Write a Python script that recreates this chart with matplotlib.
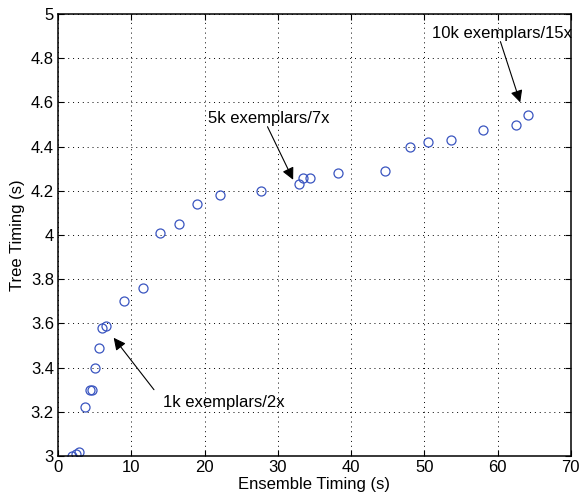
import matplotlib
matplotlib.use("Agg")
import matplotlib.pyplot as plt
from matplotlib import rcParams

# Data
ensemble_timing = [1.9, 2.4, 2.9, 3.7, 4.3, 4.6, 5.1, 5.65, 6.0, 6.55, 9.0, 11.6,
                   13.9, 16.5, 19.0, 22.1, 27.7, 32.9, 33.5, 34.4, 38.2, 44.6,
                   48.0, 50.5, 53.7, 58.0, 62.5, 64.1]
tree_timing = [3.0, 3.01, 3.02, 3.22, 3.30, 3.30, 3.40, 3.49, 3.58, 3.59, 3.70, 3.76,
               4.01, 4.05, 4.14, 4.18, 4.20, 4.23, 4.26, 4.26, 4.28, 4.29,
               4.40, 4.42, 4.43, 4.475, 4.50, 4.545]

# (label, text position, arrow start, arrow tip)
annotations = [
    ("1k exemplars/2x", (14.3, 3.24), (13.1, 3.30), (7.6, 3.535)),
    ("5k exemplars/7x", (20.5, 4.525), (28.6, 4.49), (32.1, 4.25)),
    ("10k exemplars/15x", (51.0, 4.91), (60.4, 4.875), (63.1, 4.60)),
]

if __name__ == "__main__":
    rcParams.update({"font.size": 12, "font.family": "Liberation Sans"})
    fig = plt.figure(figsize=(5.83, 5.0), dpi=100)
    ax = fig.add_axes([0.0995, 0.088, 0.8795, 0.884])

    ax.plot(ensemble_timing, tree_timing, linestyle="none", marker="o",
            markersize=6.5, markerfacecolor="none", markeredgecolor="#3a55c0",
            markeredgewidth=0.9)

    #Labels and arrows
    for label, txt, start, tip in annotations:
        ax.text(txt[0], txt[1], label, ha="left", va="center", fontsize=12)
        ax.annotate("", xy=tip, xytext=start,
                    arrowprops=dict(arrowstyle="-|>", color="black", lw=0.8,
                                    mutation_scale=18, shrinkA=0, shrinkB=0))

    ax.set_xlim(0, 70)
    ax.set_ylim(3, 5)
    ax.set_xticks(range(0, 71, 10))
    ax.set_yticks([3, 3.2, 3.4, 3.6, 3.8, 4, 4.2, 4.4, 4.6, 4.8, 5])
    ax.set_yticklabels(["3", "3.2", "3.4", "3.6", "3.8", "4", "4.2", "4.4", "4.6", "4.8", "5"])
    ax.tick_params(direction="in", top=True, right=True, length=4, width=0.8, pad=3)
    ax.grid(True, linestyle=(0, (1, 4)), color="black", linewidth=0.7)
    for s in ax.spines.values():
        s.set_linewidth(1.1)

    ax.set_xlabel("Ensemble Timing (s)", labelpad=1)
    ax.set_ylabel("Tree Timing (s)", labelpad=4)
    plt.savefig("out.png", dpi=100)
